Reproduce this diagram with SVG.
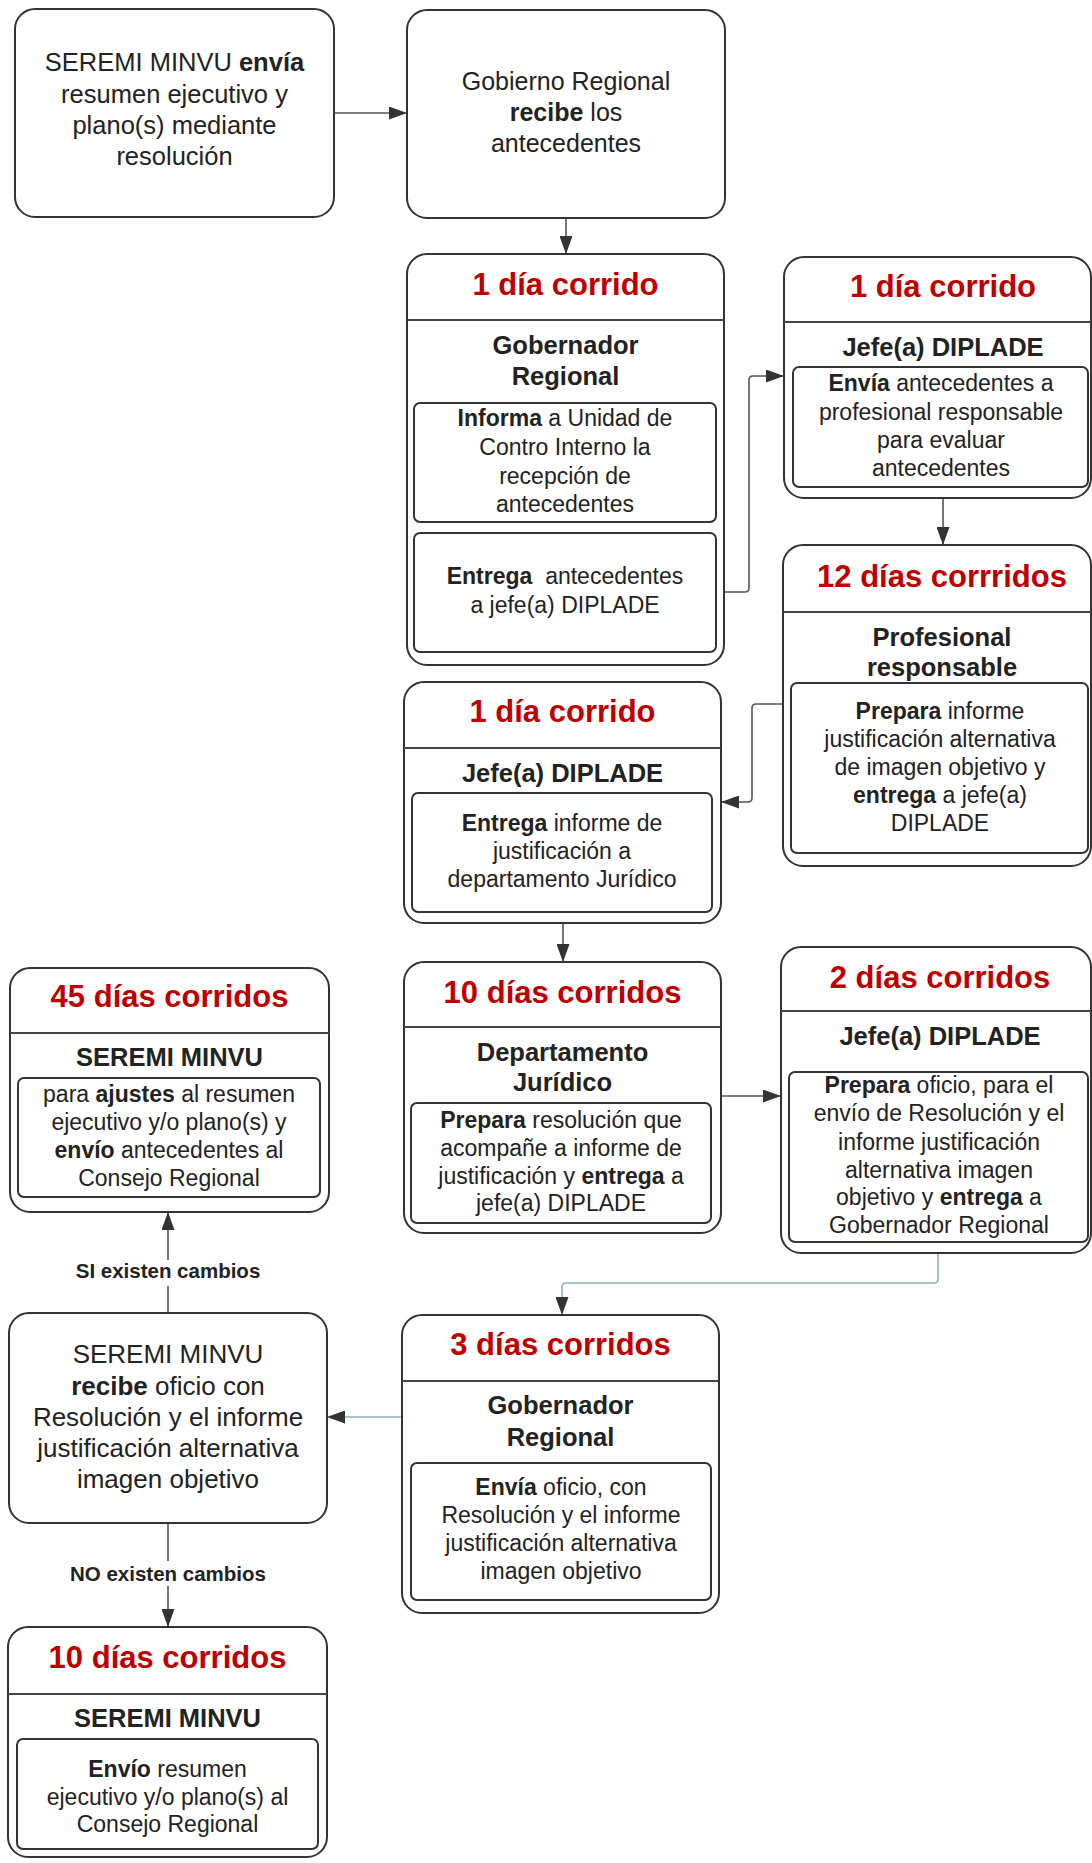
<svg xmlns="http://www.w3.org/2000/svg" width="1092" height="1863" viewBox="0 0 1092 1863">
<style>
.box{fill:#fff;stroke:#333;stroke-width:2}
.inner{fill:#fff;stroke:#333;stroke-width:2}
.dv{stroke:#444;stroke-width:2}
text{font-family:"Liberation Sans",Arial,sans-serif;text-anchor:middle;dominant-baseline:central;fill:#222}
.hd{font-size:31px;font-weight:bold;fill:#c00000}
.sub{font-size:25.5px;font-weight:bold}
.tx{font-size:23px}
.t1{font-size:25.5px}
.t2{font-size:25px}
.t10{font-size:26px}
.lbl{font-size:20.5px;font-weight:bold}
.b{font-weight:bold}
.conn{fill:none;stroke:#555;stroke-width:1.6}
.teal{stroke:#8fb0b8}
</style>
<defs>
<marker id="ah" markerUnits="userSpaceOnUse" markerWidth="18" markerHeight="13" refX="18" refY="6.5" orient="auto">
<path d="M0,0 L18,6.5 L0,13 z" fill="#333"/>
</marker>
</defs>
<rect width="1092" height="1863" fill="#fff"/>

<g id="connectors">
<path class="conn" d="M334,113 H407" marker-end="url(#ah)"/>
<path class="conn" d="M566,218 V254" marker-end="url(#ah)"/>
<path class="conn" d="M716,592 H745 Q749,592 749,588 V380 Q749,376 753,376 H784" marker-end="url(#ah)"/>
<path class="conn" d="M943,498 V545" marker-end="url(#ah)"/>
<path class="conn" d="M783,704 H756 Q752,704 752,708 V798 Q752,802 748,802 H721" marker-end="url(#ah)"/>
<path class="conn" d="M563,923 V962" marker-end="url(#ah)"/>
<path class="conn" d="M721,1096 H781" marker-end="url(#ah)"/>
<path class="conn teal" d="M938,1253 V1279 Q938,1283 934,1283 H566 Q562,1283 562,1287 V1315" marker-end="url(#ah)"/>
<path class="conn teal" d="M402,1417 H327" marker-end="url(#ah)"/>
<path class="conn" d="M168,1313 V1286"/>
<path class="conn" d="M168,1260 V1212" marker-end="url(#ah)"/>
<path class="conn" d="M168,1523 V1561"/>
<path class="conn" d="M168,1586 V1627" marker-end="url(#ah)"/>
<text class="lbl" x="168" y="1270">SI existen cambios</text>
<text class="lbl" x="168" y="1573">NO existen cambios</text>
</g>

<g id="n1">
<rect class="box" x="15" y="9" width="319" height="208" rx="20"/>
<text class="t1" x="174.5" y="62">SEREMI MINVU <tspan class="b">envía</tspan></text>
<text class="t1" x="174.5" y="93.5">resumen ejecutivo y</text>
<text class="t1" x="174.5" y="125">plano(s) mediante</text>
<text class="t1" x="174.5" y="156">resolución</text>
</g>

<g id="n2">
<rect class="box" x="407" y="10" width="318" height="208" rx="20"/>
<text class="t2" x="566" y="81">Gobierno Regional</text>
<text class="t2" x="566" y="112"><tspan class="b">recibe</tspan> los</text>
<text class="t2" x="566" y="143">antecedentes</text>
</g>

<g id="n3">
<rect class="box" x="407" y="254" width="317" height="411" rx="20"/>
<line class="dv" x1="407" y1="320" x2="724" y2="320"/>
<text class="hd" x="565.5" y="284">1 día corrido</text>
<text class="sub" x="565.5" y="345">Gobernador</text>
<text class="sub" x="565.5" y="376">Regional</text>
<rect class="inner" x="414" y="403" width="302" height="119" rx="6"/>
<text class="tx" x="565" y="418"><tspan class="b">Informa</tspan> a Unidad de</text>
<text class="tx" x="565" y="447">Contro Interno la</text>
<text class="tx" x="565" y="476">recepción de</text>
<text class="tx" x="565" y="504">antecedentes</text>
<rect class="inner" x="414" y="533" width="302" height="119" rx="6"/>
<text class="tx" x="565" y="576" style="white-space:pre"><tspan class="b">Entrega</tspan>  antecedentes</text>
<text class="tx" x="565" y="605">a jefe(a) DIPLADE</text>
</g>

<g id="n4">
<rect class="box" x="784" y="257" width="307" height="241" rx="20"/>
<line class="dv" x1="784" y1="322" x2="1091" y2="322"/>
<text class="hd" x="943" y="286">1 día corrido</text>
<text class="sub" x="943" y="347">Jefe(a) DIPLADE</text>
<rect class="inner" x="793" y="367" width="295" height="120" rx="6"/>
<text class="tx" x="941" y="383"><tspan class="b">Envía</tspan> antecedentes a</text>
<text class="tx" x="941" y="412">profesional responsable</text>
<text class="tx" x="941" y="440">para evaluar</text>
<text class="tx" x="941" y="468">antecedentes</text>
</g>

<g id="n5">
<rect class="box" x="783" y="545" width="308" height="321" rx="20"/>
<line class="dv" x1="783" y1="612" x2="1091" y2="612"/>
<text class="hd" x="942" y="576">12 días corrridos</text>
<text class="sub" x="942" y="637">Profesional</text>
<text class="sub" x="942" y="667">responsable</text>
<rect class="inner" x="791" y="683" width="297" height="170" rx="6"/>
<text class="tx" x="940" y="711"><tspan class="b">Prepara</tspan> informe</text>
<text class="tx" x="940" y="739">justificación alternativa</text>
<text class="tx" x="940" y="767">de imagen objetivo y</text>
<text class="tx" x="940" y="795"><tspan class="b">entrega</tspan> a jefe(a)</text>
<text class="tx" x="940" y="823">DIPLADE</text>
</g>

<g id="n6">
<rect class="box" x="404" y="682" width="317" height="241" rx="20"/>
<line class="dv" x1="404" y1="748" x2="721" y2="748"/>
<text class="hd" x="562.5" y="711">1 día corrido</text>
<text class="sub" x="562.5" y="773">Jefe(a) DIPLADE</text>
<rect class="inner" x="412" y="793" width="300" height="119" rx="6"/>
<text class="tx" x="562" y="823"><tspan class="b">Entrega</tspan> informe de</text>
<text class="tx" x="562" y="851">justificación a</text>
<text class="tx" x="562" y="879">departamento Jurídico</text>
</g>

<g id="n7">
<rect class="box" x="404" y="962" width="317" height="271" rx="20"/>
<line class="dv" x1="404" y1="1027" x2="721" y2="1027"/>
<text class="hd" x="562.5" y="992">10 días corridos</text>
<text class="sub" x="562.5" y="1052">Departamento</text>
<text class="sub" x="562.5" y="1082">Jurídico</text>
<rect class="inner" x="411" y="1103" width="300" height="120" rx="6"/>
<text class="tx" x="561" y="1120"><tspan class="b">Prepara</tspan> resolución que</text>
<text class="tx" x="561" y="1148">acompañe a informe de</text>
<text class="tx" x="561" y="1176">justificación y <tspan class="b">entrega</tspan> a</text>
<text class="tx" x="561" y="1203">jefe(a) DIPLADE</text>
</g>

<g id="n8">
<rect class="box" x="781" y="947" width="310" height="306" rx="20"/>
<line class="dv" x1="781" y1="1011" x2="1091" y2="1011"/>
<text class="hd" x="940" y="977">2 días corridos</text>
<text class="sub" x="940" y="1036">Jefe(a) DIPLADE</text>
<rect class="inner" x="789" y="1072" width="299" height="170" rx="6"/>
<text class="tx" x="939" y="1085"><tspan class="b">Prepara</tspan> oficio, para el</text>
<text class="tx" x="939" y="1113">envío de Resolución y el</text>
<text class="tx" x="939" y="1142">informe justificación</text>
<text class="tx" x="939" y="1170">alternativa imagen</text>
<text class="tx" x="939" y="1197">objetivo y <tspan class="b">entrega</tspan> a</text>
<text class="tx" x="939" y="1225">Gobernador Regional</text>
</g>

<g id="n9">
<rect class="box" x="402" y="1315" width="317" height="298" rx="20"/>
<line class="dv" x1="402" y1="1381" x2="719" y2="1381"/>
<text class="hd" x="560.5" y="1344">3 días corridos</text>
<text class="sub" x="560.5" y="1405">Gobernador</text>
<text class="sub" x="560.5" y="1437">Regional</text>
<rect class="inner" x="411" y="1463" width="300" height="137" rx="6"/>
<text class="tx" x="561" y="1487"><tspan class="b">Envía</tspan> oficio, con</text>
<text class="tx" x="561" y="1515">Resolución y el informe</text>
<text class="tx" x="561" y="1543">justificación alternativa</text>
<text class="tx" x="561" y="1571">imagen objetivo</text>
</g>

<g id="n10">
<rect class="box" x="9" y="1313" width="318" height="210" rx="20"/>
<text class="t10" x="168" y="1354">SEREMI MINVU</text>
<text class="t10" x="168" y="1386"><tspan class="b">recibe</tspan> oficio con</text>
<text class="t10" x="168" y="1417">Resolución y el informe</text>
<text class="t10" x="168" y="1448">justificación alternativa</text>
<text class="t10" x="168" y="1479">imagen objetivo</text>
</g>

<g id="n11">
<rect class="box" x="10" y="968" width="319" height="244" rx="20"/>
<line class="dv" x1="10" y1="1033" x2="329" y2="1033"/>
<text class="hd" x="169.5" y="996">45 días corridos</text>
<text class="sub" x="169.5" y="1057">SEREMI MINVU</text>
<rect class="inner" x="18" y="1078" width="302" height="119" rx="6"/>
<text class="tx" x="169" y="1094">para <tspan class="b">ajustes</tspan> al resumen</text>
<text class="tx" x="169" y="1122">ejecutivo y/o plano(s) y</text>
<text class="tx" x="169" y="1150"><tspan class="b">envío</tspan> antecedentes al</text>
<text class="tx" x="169" y="1178">Consejo Regional</text>
</g>

<g id="n12">
<rect class="box" x="8" y="1627" width="319" height="230" rx="20"/>
<line class="dv" x1="8" y1="1694" x2="327" y2="1694"/>
<text class="hd" x="167.5" y="1657">10 días corridos</text>
<text class="sub" x="167.5" y="1718">SEREMI MINVU</text>
<rect class="inner" x="17" y="1739" width="301" height="110" rx="6"/>
<text class="tx" x="167.5" y="1769"><tspan class="b">Envío</tspan> resumen</text>
<text class="tx" x="167.5" y="1797">ejecutivo y/o plano(s) al</text>
<text class="tx" x="167.5" y="1824">Consejo Regional</text>
</g>
</svg>
